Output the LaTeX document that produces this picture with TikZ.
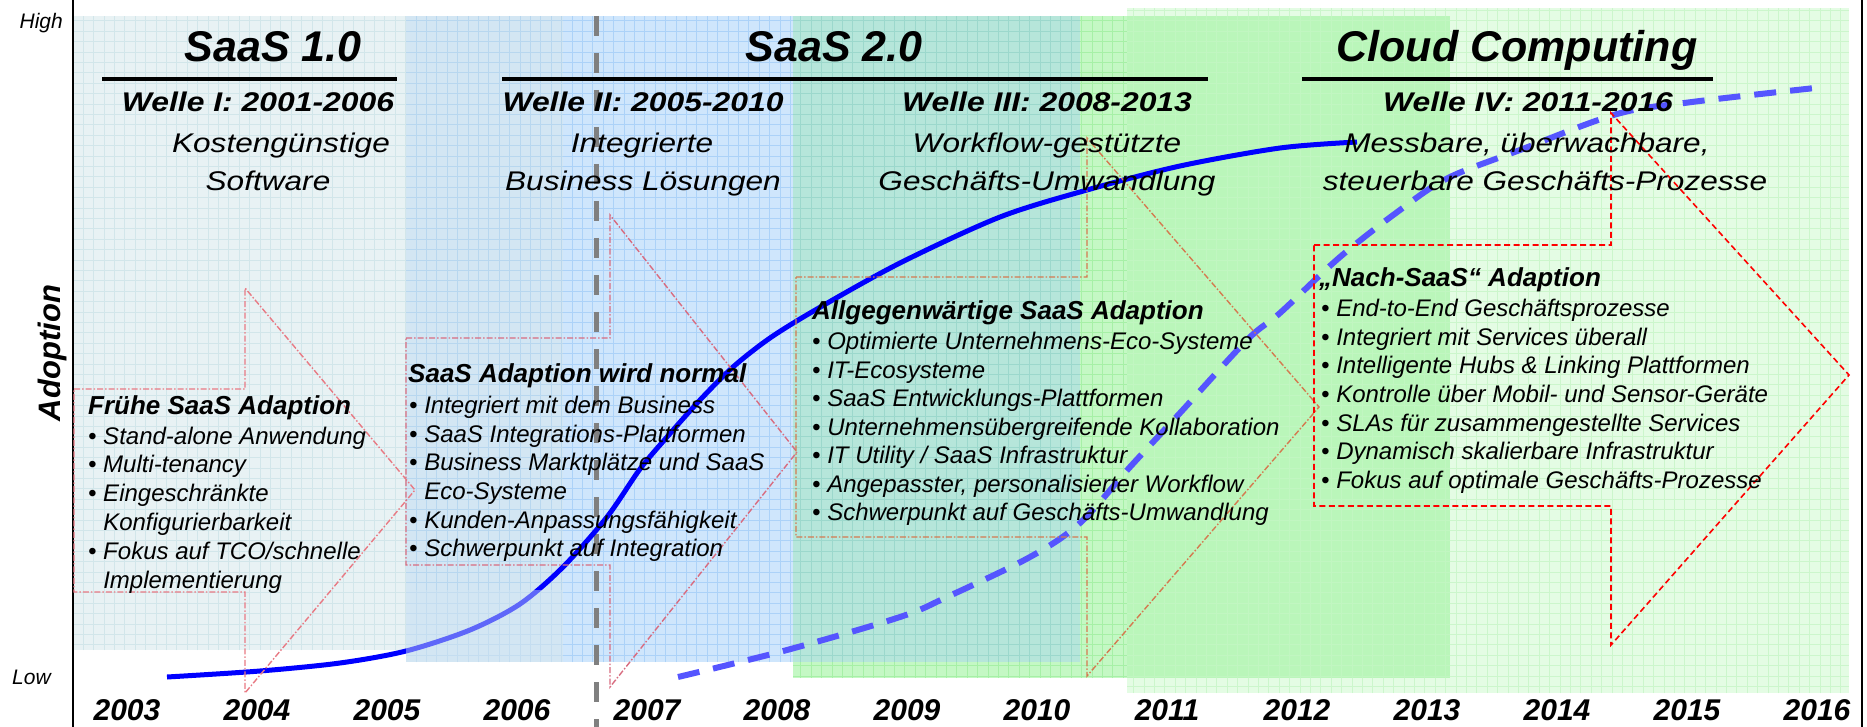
\documentclass[tikz,border=0pt]{standalone}
\usepackage{fontspec}
\setmainfont{Liberation Sans}
\usepackage{graphicx}
\newcommand{\wvx}[1]{\scalebox{1.18}[1]{#1}}
\newcommand{\sbx}[1]{\scalebox{1.17}[1]{#1}}
\definecolor{cA}{HTML}{E8F2F4}\definecolor{gA}{HTML}{D2E6EA}
\definecolor{cAB}{HTML}{D3E6F3}\definecolor{gAB}{HTML}{B8D7EF}
\definecolor{cB}{HTML}{CFE6FC}\definecolor{gB}{HTML}{ACD2F8}
\definecolor{cBC}{HTML}{B6E6DA}\definecolor{gBC}{HTML}{9CD8CC}
\definecolor{cC}{HTML}{C4F8C4}\definecolor{gC}{HTML}{A6F0A6}
\definecolor{cCD}{HTML}{BAF6BA}\definecolor{gCD}{HTML}{9EEE9E}
\definecolor{cD}{HTML}{E4FCE4}\definecolor{gD}{HTML}{CCF6CC}
\definecolor{arA}{HTML}{E87A84}
\definecolor{arB}{HTML}{D86C80}
\definecolor{arC}{HTML}{D47A50}
\definecolor{curveA}{HTML}{0000FF}
\definecolor{curveB}{HTML}{5555FF}
\begin{document}
\begin{tikzpicture}[x=1pt,y=-1pt,
  head/.style={font=\fontsize{43}{50}\selectfont\bfseries\itshape, inner sep=0pt, anchor=base},
  welle/.style={font=\fontsize{27}{32}\selectfont\bfseries\itshape, inner sep=0pt, anchor=base},
  subt/.style={font=\fontsize{27}{32}\selectfont\itshape, inner sep=0pt, anchor=base},
  btitle/.style={font=\fontsize{26}{30}\selectfont\bfseries\itshape, inner sep=0pt, anchor=base west},
  bul/.style={font=\fontsize{24}{28}\selectfont\itshape, inner sep=0pt, anchor=base west},
  yearlab/.style={font=\fontsize{30}{34}\selectfont\bfseries\itshape, inner sep=0pt, anchor=base},
  hline/.style={line width=4pt, black},
  axisline/.style={line width=2.5pt, black},
  gridln/.style={line width=0.7pt},
  arrowbox/.style={line width=1.4pt, dash pattern=on 6pt off 2pt on 1.5pt off 2pt, line join=miter},
  arrowboxred/.style={line width=1.6pt, red, dash pattern=on 6pt off 3.5pt, line join=miter},
  solidcurve/.style={line width=5pt, curveA},
  dashcurve/.style={line width=6pt, curveB, dash pattern=on 22pt off 14pt}
]
\useasboundingbox (0,0) rectangle (1867,727);
\fill[white] (0,0) rectangle (1867,727);

% background panels
\fill[cA] (73,16) rectangle (406,650);
\draw[gridln, gA, step=10.4pt] (73,650) grid (406,16);
\fill[cAB] (406,16) rectangle (563,662);
\draw[gridln, gAB, step=10.4pt] (406,662) grid (563,16);
\fill[cB] (563,16) rectangle (793,662);
\draw[gridln, gB, step=10.4pt] (563,662) grid (793,16);
\fill[cBC] (793,16) rectangle (1080,662);
\draw[gridln, gBC, step=10.4pt] (793,662) grid (1080,16);
\fill[cC] (793,662) rectangle (1080,678);
\draw[gridln, gC, step=10.4pt] (793,678) grid (1080,662);
\fill[cC] (1080,16) rectangle (1127,678);
\draw[gridln, gC, step=10.4pt] (1080,678) grid (1127,16);
\fill[cD] (1127,8) rectangle (1450,16);
\fill[cD] (1127,678) rectangle (1450,693);
\fill[cCD] (1127,16) rectangle (1450,678);
\draw[gridln, gCD, step=10.4pt] (1127,678) grid (1450,16);
\fill[cD] (1450,8) rectangle (1849,693);
\draw[gridln, gD, step=10.4pt] (1127,693) grid (1849,8);
\fill[cCD, opacity=0.6] (1127,16) rectangle (1450,678);

% gray dashed separator
\draw[line width=5pt, gray, dash pattern=on 20pt off 17pt] (596,16) -- (596,727);

% axes
\draw[axisline] (73,0) -- (73,727);
\draw[axisline] (1862,0) -- (1862,727);

% curves
\draw[solidcurve] plot[smooth, tension=0.5] coordinates {(167,677) (260,671) (340,663) (406,651) (470,630) (520,604) (563,567) (607,517) (640,469) (667,437) (700,400) (733,367) (770,338) (817,309) (900,263) (1000,217) (1087,190) (1180,166) (1280,148) (1357,142)};
\fill[cAB, opacity=0.45] (406,590) rectangle (563,662);
\draw[dashcurve] plot[smooth, tension=0.55] coordinates {(678,677) (787,650) (900,617) (947,597) (1030,557) (1080,523) (1130,467) (1180,413) (1247,340) (1280,313) (1340,257) (1400,210) (1448,178) (1520,150) (1617,114) (1692,102) (1815,88)};

% block arrows
\draw[arrowbox, arA] (74,389) -- (245,389) -- (245,288) -- (415,490) -- (245,693) -- (245,592) -- (74,592) -- cycle;
\draw[arrowbox, arB] (406,338) -- (610,338) -- (610,215) -- (797,452) -- (610,687) -- (610,565) -- (406,565) -- cycle;
\draw[arrowbox, arC] (796,277) -- (1087,277) -- (1087,138) -- (1319,407) -- (1087,676) -- (1087,537) -- (796,537) -- cycle;
\draw[arrowboxred] (1314,245) -- (1611,245) -- (1611,113) -- (1849,375) -- (1611,645) -- (1611,506) -- (1314,506) -- cycle;

% heading lines
\draw[hline] (102,79) -- (397,79);
\draw[hline] (502,79) -- (1208,79);
\draw[hline] (1302,79) -- (1713,79);

% headings
\node[head] (h1) at (273,62) {SaaS 1.0};
\node[head] (h2) at (834,62) {SaaS 2.0};
\node[head] (h3) at (1517,62) {Cloud Computing};

\node[welle] (w1) at (258,112) {\wvx{Welle I: 2001-2006}};
\node[welle] (w2) at (643,112) {\wvx{Welle II: 2005-2010}};
\node[welle] (w3) at (1047,112) {\wvx{Welle III: 2008-2013}};
\node[welle] (w4) at (1528,112) {\wvx{Welle IV: 2011-2016}};

\node[subt] (s1a) at (281,153) {\sbx{Kostengünstige}};
\node[subt] (s1b) at (268,191) {\sbx{Software}};
\node[subt] (s2a) at (642,153) {\sbx{Integrierte}};
\node[subt] (s2b) at (643,191) {\sbx{Business Lösungen}};
\node[subt] (s3a) at (1047,153) {\sbx{Workflow-gestützte}};
\node[subt] (s3b) at (1047,191) {\sbx{Geschäfts-Umwandlung}};
\node[subt] (s4a) at (1527,153) {\sbx{Messbare, überwachbare,}};
\node[subt] (s4b) at (1545,191) {\sbx{steuerbare Geschäfts-Prozesse}};

% box 1
\node[btitle] (t1) at (88,414) {Frühe SaaS Adaption};
\foreach \t [count=\i from 0] in {{\textbullet\ Stand-alone Anwendung},{\textbullet\ Multi-tenancy},{\textbullet\ Eingeschränkte},{\hphantom{\textbullet\ }Konfigurierbarkeit},{\textbullet\ Fokus auf TCO/schnelle},{\hphantom{\textbullet\ }Implementierung}}
  \node[bul] (ba\i) at (88,{444+28.8*\i}) {\t};

% box 2
\node[btitle] (t2) at (408,382) {SaaS Adaption wird normal};
\foreach \t [count=\i from 0] in {{\textbullet\ Integriert mit dem Business},{\textbullet\ SaaS Integrations-Plattformen},{\textbullet\ Business Marktplätze und SaaS},{\hphantom{\textbullet\ }Eco-Systeme},{\textbullet\ Kunden-Anpassungsfähigkeit},{\textbullet\ Schwerpunkt auf Integration}}
  \node[bul] (bb\i) at (409,{413.6+28.6*\i}) {\t};

% box 3
\node[btitle] (t3) at (812,319) {Allgegenwärtige SaaS Adaption};
\foreach \t [count=\i from 0] in {{\textbullet\ Optimierte Unternehmens-Eco-Systeme},{\textbullet\ IT-Ecosysteme},{\textbullet\ SaaS Entwicklungs-Plattformen},{\textbullet\ Unternehmensübergreifende Kollaboration},{\textbullet\ IT Utility / SaaS Infrastruktur},{\textbullet\ Angepasster, personalisierter Workflow},{\textbullet\ Schwerpunkt auf Geschäfts-Umwandlung}}
  \node[bul] (bc\i) at (812,{349.6+28.5*\i}) {\t};

% box 4
\node[btitle] (t4) at (1319,286) {„Nach-SaaS“ Adaption};
\foreach \t [count=\i from 0] in {{\textbullet\ End-to-End Geschäftsprozesse},{\textbullet\ Integriert mit Services überall},{\textbullet\ Intelligente Hubs \& Linking Plattformen},{\textbullet\ Kontrolle über Mobil- und Sensor-Geräte},{\textbullet\ SLAs für zusammengestellte Services},{\textbullet\ Dynamisch skalierbare Infrastruktur},{\textbullet\ Fokus auf optimale Geschäfts-Prozesse}}
  \node[bul] (bd\i) at (1321,{316.6+28.6*\i}) {\t};

% axis labels
\node[font=\fontsize{21}{24}\selectfont\itshape, inner sep=0pt, anchor=base east] (high) at (63,29) {High};
\node[font=\fontsize{21}{24}\selectfont\itshape, inner sep=0pt, anchor=base west] (low) at (12,684) {Low};
\node[font=\fontsize{31}{36}\selectfont\bfseries\itshape, inner sep=0pt, rotate=90] (adopt) at (52,353) {Adoption};

% years
\foreach \yr [count=\i from 0] in {2003,2004,2005,2006,2007,2008,2009,2010,2011,2012,2013,2014,2015,2016}
  \node[yearlab] (yr\yr) at ({127+130*\i},720) {\yr};
\end{tikzpicture}
\end{document}
